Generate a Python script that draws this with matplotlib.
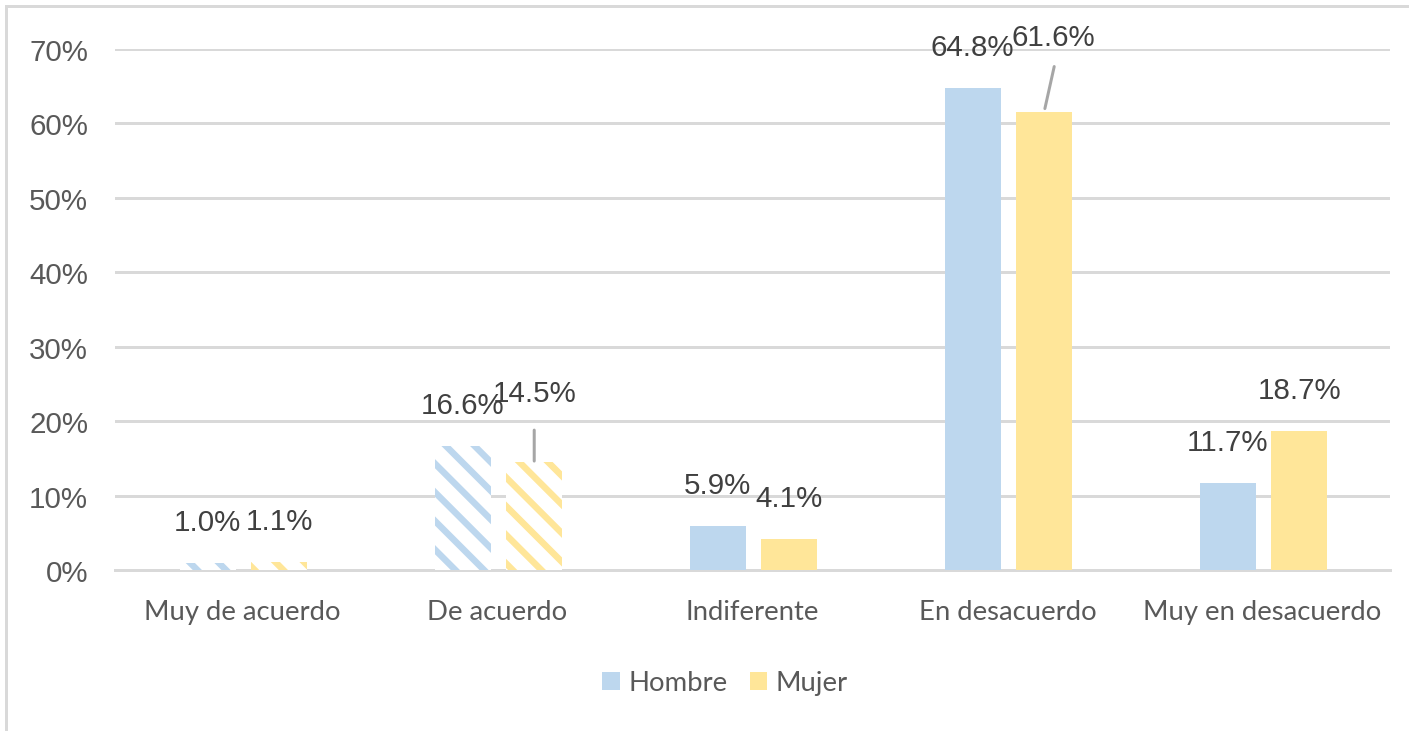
import matplotlib
matplotlib.use("Agg")
import matplotlib.pyplot as plt
import numpy as np
from matplotlib.lines import Line2D
from matplotlib.patches import Patch

categories = ["Muy de acuerdo", "De acuerdo", "Indiferente", "En desacuerdo", "Muy en desacuerdo"]
hombre = [1.0, 16.6, 5.9, 64.8, 11.7]
mujer = [1.1, 14.5, 4.1, 61.6, 18.7]
series_names = ["Hombre", "Mujer"]
y_ticks = [0, 10, 20, 30, 40, 50, 60, 70]
hatched = [True, True, False, False, False]

DPI = 172
W, H = 1409, 732
def pt(px):
    return px * 72.0 / DPI

plt.rcParams['hatch.linewidth'] = pt(6.5)

BLUE = "#BDD7EE"
YELLOW = "#FFE699"
GRID = "#D9D9D9"

fig = plt.figure(figsize=(W / DPI, H / DPI), dpi=DPI)
ax = fig.add_axes([115 / W, 1 - 571 / H, (1390 - 115) / W, (571 - 50) / H])

x = np.arange(len(categories))
bw = 0.22
offs = [-0.137, 0.144]
colors = [BLUE, YELLOW]
for s, vals in enumerate([hombre, mujer]):
    for i, v in enumerate(vals):
        if hatched[i]:
            ax.bar(x[i] + offs[s], v, bw, facecolor="white", edgecolor=colors[s],
                   hatch="\\\\", linewidth=0, zorder=3)
        else:
            ax.bar(x[i] + offs[s], v, bw, color=colors[s], linewidth=0, zorder=3)

ax.set_xlim(-0.5, len(categories) - 0.5)
ax.set_ylim(0, 70)
ax.set_yticks(y_ticks)
ax.set_yticklabels([f"{t}%" for t in y_ticks], fontfamily="Liberation Sans",
                   fontsize=pt(29.5), color="#595959")
ax.set_xticks(x)
ax.set_xticklabels(categories, fontfamily="Lato", fontsize=pt(27.5), color="#595959")
ax.tick_params(axis="y", length=0, pad=pt(27))
ax.tick_params(axis="x", length=0, pad=pt(29))
ax.grid(axis="y", color=GRID, linewidth=pt(3), zorder=0)
ax.set_axisbelow(True)
for sp in ["top", "right", "left"]:
    ax.spines[sp].set_visible(False)
ax.spines["bottom"].set_color(GRID)
ax.spines["bottom"].set_linewidth(pt(3))

# data labels: (dx, dy) offsets in pixels
label_off = {
    (1, 1): (0, 61),
    (1, 3): (9, 67),
}
leaders = {
    (1, 1): ((0, 32), 1),
    (1, 3): ((10, 45), 3),
}
for s, vals in enumerate([hombre, mujer]):
    for i, v in enumerate(vals):
        dx, dy = label_off.get((s, i), (0, 33))
        ax.annotate(f"{v:.1f}%", xy=(x[i] + offs[s], v), xytext=(dx, dy),
                    textcoords="offset pixels", ha="center", va="baseline",
                    fontfamily="Liberation Sans", fontsize=pt(29.5), color="#404040",
                    zorder=5)
        if (s, i) in leaders:
            (lx, ly), gap = leaders[(s, i)]
            ax.annotate("", xy=(x[i] + offs[s], v), xytext=(lx, ly),
                        textcoords="offset pixels",
                        arrowprops=dict(arrowstyle="-", color="#A6A6A6",
                                        lw=pt(3), shrinkA=0, shrinkB=pt(gap)),
                        zorder=4)

handles = [Patch(facecolor=BLUE, edgecolor="none"), Patch(facecolor=YELLOW, edgecolor="none")]
fig.legend(handles, series_names, loc="center", bbox_to_anchor=(725 / W, 1 - 684 / H),
           ncol=2, frameon=False, prop={"family": "Lato", "size": pt(27.5)},
           labelcolor="#595959", handlelength=0.65, handleheight=0.65,
           handletextpad=0.3, columnspacing=0.8)

# chart border (left & top)
fig.add_artist(Line2D([6 / W, 6 / W], [0, 1 - 7 / H], color=GRID, lw=pt(3)))
fig.add_artist(Line2D([6 / W, 1], [1 - 7 / H, 1 - 7 / H], color=GRID, lw=pt(3)))

fig.savefig("out.png", dpi=DPI)
